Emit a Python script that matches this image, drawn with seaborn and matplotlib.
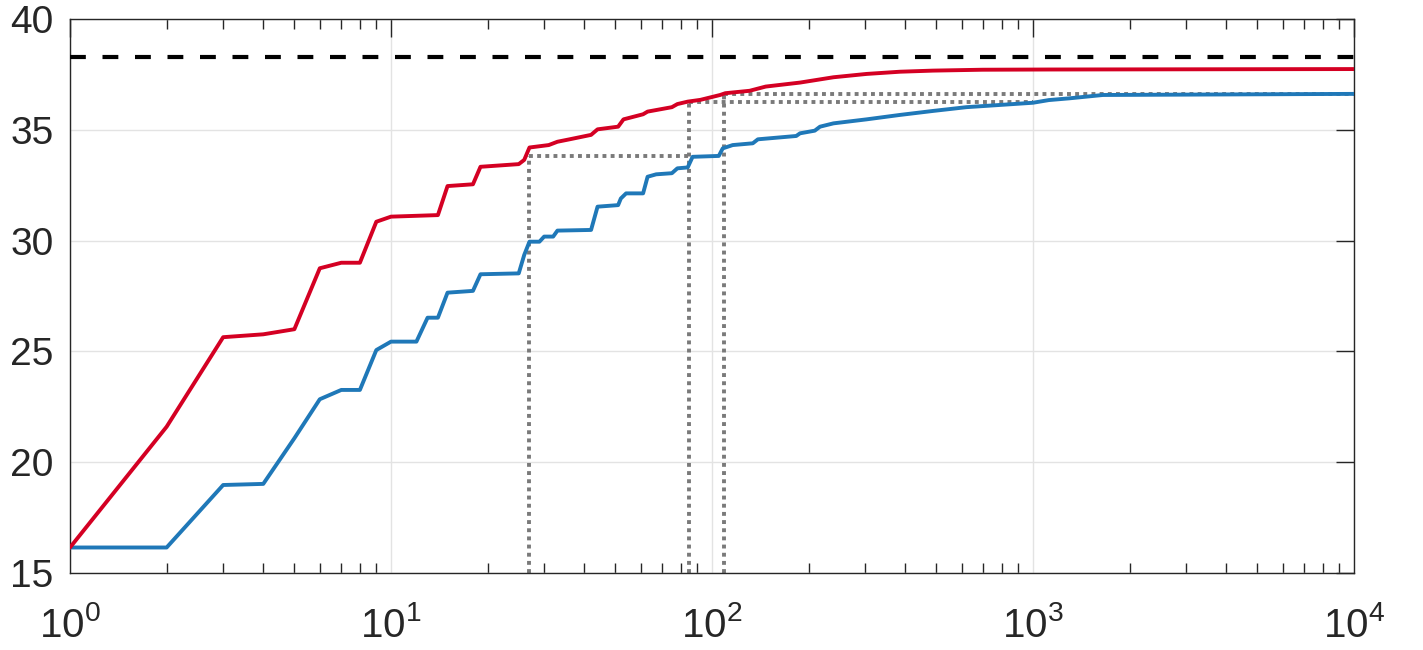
import numpy as np
import pandas as pd
import seaborn as sns
import matplotlib.pyplot as plt

# red curve (upper)
red_n = [1, 2, 3, 4, 5, 6, 7, 8, 9, 10, 14, 15, 18, 19, 25, 26, 27, 31, 33, 36,
         42, 44, 51, 53, 61, 63, 75, 78, 84, 92, 106, 110, 131, 147, 188, 239, 303, 385, 488, 696,
         1120, 10000]
red_val = [16.15, 21.6, 25.64, 25.77, 26.0, 28.75, 29.0, 29.0, 30.85, 31.08,
           31.15, 32.46, 32.54, 33.33, 33.45, 33.64, 34.2, 34.31, 34.46, 34.57,
           34.77, 35.02, 35.14, 35.47, 35.7, 35.82, 36.02, 36.16, 36.27, 36.35,
           36.57, 36.65, 36.76, 36.95, 37.13, 37.37, 37.52, 37.62, 37.67, 37.71,
           37.72, 37.74]

# blue curve (lower)
blue_n = [1, 2, 3, 4, 5, 6, 7, 8, 9, 10, 12, 13, 14, 15, 18, 19, 25, 26, 27, 29,
          30, 32, 33, 42, 44, 51, 52, 54, 61, 63, 67, 75, 78, 84, 87, 105, 108, 116, 134, 139,
          183, 188, 209, 217, 239, 303, 385, 488, 620, 788, 1000, 1120, 1300, 1650, 10000]
blue_val = [16.15, 16.15, 18.97, 19.02, 21.08, 22.84, 23.26, 23.26, 25.06, 25.44,
            25.44, 26.52, 26.52, 27.65, 27.73, 28.48, 28.52, 29.35, 29.95, 29.95,
            30.18, 30.18, 30.45, 30.48, 31.53, 31.6, 31.9, 32.13, 32.13, 32.88,
            32.99, 33.04, 33.26, 33.3, 33.78, 33.82, 34.16, 34.31, 34.39, 34.57,
            34.72, 34.84, 34.96, 35.14, 35.29, 35.47, 35.67, 35.85, 36.02, 36.12,
            36.22, 36.34, 36.42, 36.57, 36.62]

target = 38.3

# dotted guides: vertical at guide_x up to guide_y, then horizontal to guide_end
guide_x = [27, 85, 109]
guide_y = [33.8, 36.25, 36.62]
guide_end = [86, 1000, 10000]

red_col = "#d40023"
blue_col = "#1f78b8"

sns.set_theme(style="white")
plt.rcParams["font.family"] = ["Liberation Sans", "DejaVu Sans"]
plt.rcParams["mathtext.fontset"] = "custom"
plt.rcParams["mathtext.rm"] = "Liberation Sans"
plt.rcParams["mathtext.it"] = "Liberation Sans"

df = pd.concat([
    pd.DataFrame({"n": red_n, "val": red_val, "curve": "red"}),
    pd.DataFrame({"n": blue_n, "val": blue_val, "curve": "blue"}),
])

fig = plt.figure(figsize=(14.23, 6.5), dpi=100)
ax = fig.add_axes([0.0492, 0.1185, 0.9023, 0.8523])

ax.grid(True, which="major", color="#e3e3e3", linewidth=1.0)
ax.set_axisbelow(True)

for gx, gy, ge in zip(guide_x, guide_y, guide_end):
    ax.plot([gx, gx], [15, gy], color="#7a7a7a", linewidth=2.8, linestyle=(0, (1.0, 1.1)), zorder=2)
    ax.plot([gx, ge], [gy, gy], color="#7a7a7a", linewidth=2.8, linestyle=(0, (1.0, 1.1)), zorder=2)

sns.lineplot(data=df, x="n", y="val", hue="curve", palette={"red": red_col, "blue": blue_col},
             hue_order=["blue", "red"], estimator=None, sort=False, linewidth=2.8, legend=False,
             ax=ax, zorder=3)

ax.axhline(target, color="black", linewidth=3.0, dashes=(3.8, 4.0), zorder=4)

ax.set_xscale("log")
ax.set_xlim(1, 1e4)
ax.set_ylim(15, 40)
ax.set_yticks([15, 20, 25, 30, 35, 40])
ax.set_xticks([1, 10, 100, 1000, 10000])
ax.set_xticklabels([r"$10^{0}$", r"$10^{1}$", r"$10^{2}$", r"$10^{3}$", r"$10^{4}$"])
ax.set_xlabel("")
ax.set_ylabel("")

for s in ax.spines.values():
    s.set_color("#262626")
    s.set_linewidth(1.0)
    s.set_visible(True)

ax.tick_params(axis="both", which="major", direction="in", length=13, width=1.0,
               colors="#262626", labelsize=28, top=True, right=True, labelcolor="#262626")
ax.tick_params(axis="x", which="major", pad=24, labelsize=29)
ax.tick_params(axis="y", which="major", pad=12)
ax.tick_params(axis="x", which="minor", direction="in", length=7, width=1.0,
               colors="#262626", top=True, bottom=True)

fig.savefig("out.png", dpi=100)
